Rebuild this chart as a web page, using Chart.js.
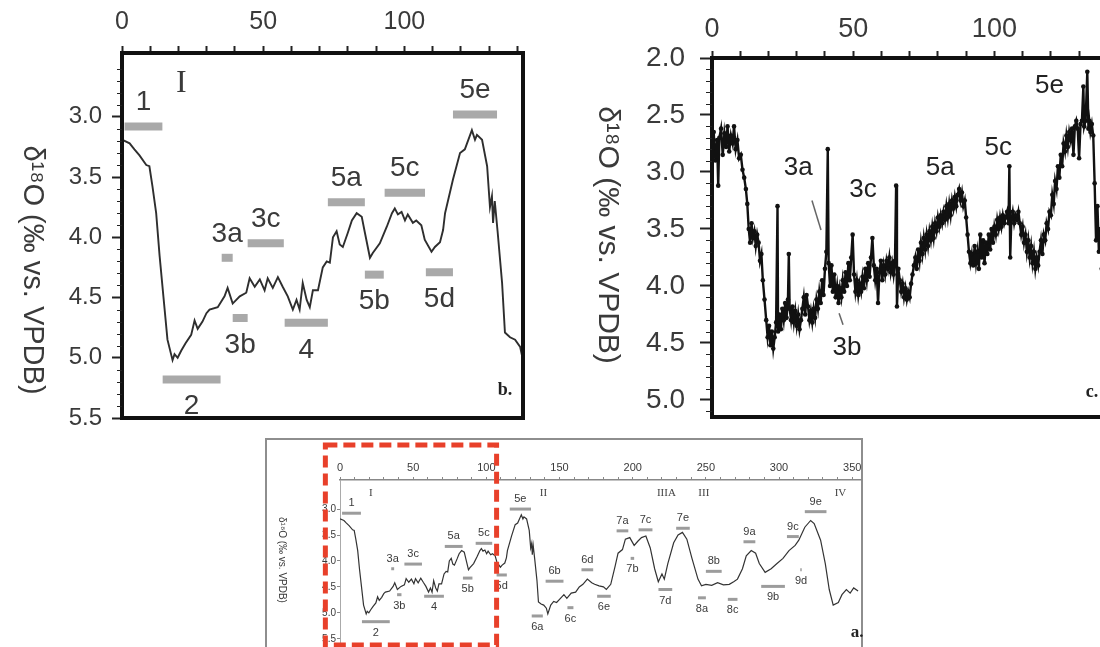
<!DOCTYPE html>
<html>
<head>
<meta charset="utf-8">
<title>δ18O records, panels a-c</title>
<script src="https://cdn.jsdelivr.net/npm/chart.js@4.4.1/dist/chart.umd.min.js"></script>
<style>
  html, body { margin: 0; padding: 0; background: #fff; }
  #page { position: relative; width: 1100px; height: 647px; overflow: hidden; }
  #page canvas { position: absolute; }
  #canvasB { left: 0; top: 0; }
  #canvasC { left: 560px; top: 0; }
  #canvasA { left: 265px; top: 438px; }
  #frameA { position: absolute; left: 265px; top: 438px; width: 598px; height: 240px;
            border: 2px solid #8e8e8e; box-sizing: border-box; }
</style>
</head>
<body>
<div id="page">
  <div id="frameA"></div>
  <canvas id="canvasB" width="550" height="440"></canvas>
  <canvas id="canvasC" width="570" height="440"></canvas>
  <canvas id="canvasA" width="600" height="215"></canvas>
</div>
<script>
var SANS = '"Liberation Sans", Arial, sans-serif';
var SERIF = '"Liberation Serif", "Times New Roman", serif';
var INK = '#3a3a3a';
var AXIS_TITLE = 'δ¹⁸O (‰ vs. VPDB)';

// smoothed record (panels a and b), age vs d18O
var recAge = [0, 2.7, 4.4, 6.2, 8.6, 9.7, 10.8, 12.1, 13.3, 14.7, 16.1, 17.9, 18.6, 19.7, 21, 22.5, 24.5, 25.7, 26.8, 28.5,
  29.9, 31, 33.9, 36.3, 37.4, 39.2, 41.7, 44, 45.2, 47, 48.8, 50.5, 51.6, 53.4, 55.2, 56.9, 58.7, 60.5, 61.8, 62.9,
  64, 65.4, 66.5, 67.6, 69.4, 71.1, 72.5, 73.6, 74.7, 76, 77.1, 78.2, 80, 81.4, 83.1, 84.9, 86, 87.8, 88.8, 91.3,
  93.8, 95.6, 96.6, 97.7, 99, 100.2, 101.2, 103, 104.2, 106, 107.2, 109.6, 110.8, 112.6, 113.7, 114.4, 117.2, 119.7, 121.4, 123.9,
  125, 125.7, 127.5, 129.3, 130.3, 131, 131.4, 132, 133, 134.6, 135.6, 137.4, 139.2, 141, 142, 144, 146, 148, 150, 153,
  155, 158, 161, 163.5, 166, 169, 172, 174, 177, 180, 182, 185, 188, 190, 193, 195, 198, 201, 203.5, 206,
  209, 212, 215, 217.5, 220, 221.6, 224, 228, 231, 234, 237, 240.5, 244.6, 247, 250, 254, 258, 262, 266, 269,
  271.6, 275, 277.6, 281, 284, 286.5, 290.5, 294.6, 298.6, 302.7, 306.8, 311, 313.5, 317.6, 321.6, 324, 328.4, 331.6, 334.3, 337,
  340.5, 343, 346, 348.6, 351, 354];
var recD18O = [3.19, 3.22, 3.27, 3.32, 3.40, 3.41, 3.58, 3.80, 4.15, 4.50, 4.85, 5.02, 4.97, 5.00, 4.94, 4.88, 4.81, 4.69, 4.76, 4.70,
  4.63, 4.60, 4.58, 4.49, 4.42, 4.55, 4.49, 4.46, 4.34, 4.41, 4.35, 4.44, 4.34, 4.42, 4.33, 4.41, 4.49, 4.60, 4.52, 4.60,
  4.38, 4.52, 4.58, 4.44, 4.44, 4.25, 4.20, 4.21, 4.00, 3.95, 4.06, 4.08, 3.96, 3.86, 3.80, 3.83, 3.96, 4.17, 4.13, 4.05,
  3.91, 3.80, 3.76, 3.81, 3.79, 3.86, 3.81, 3.88, 3.86, 3.90, 4.02, 4.12, 4.08, 4.04, 3.94, 3.80, 3.52, 3.30, 3.27, 3.11,
  3.19, 3.15, 3.19, 3.41, 3.75, 3.66, 3.88, 3.70, 3.95, 4.38, 4.79, 4.83, 4.85, 4.91, 5.02, 4.85, 4.78, 4.80, 4.74, 4.65,
  4.72, 4.62, 4.60, 4.50, 4.45, 4.35, 4.42, 4.45, 4.48, 4.50, 4.55, 4.45, 4.10, 3.85, 3.78, 3.58, 3.55, 3.70, 3.62, 3.55,
  3.52, 3.75, 4.15, 4.40, 4.25, 4.35, 4.05, 3.65, 3.50, 3.45, 3.58, 3.95, 4.35, 4.48, 4.45, 4.47, 4.42, 4.46, 4.45, 4.40,
  4.35, 4.15, 3.90, 3.80, 3.85, 4.05, 4.22, 4.15, 4.05, 3.95, 3.80, 3.70, 3.60, 3.35, 3.22, 3.28, 3.60, 4.05, 4.55, 4.85,
  4.80, 4.65, 4.55, 4.62, 4.52, 4.58];

// high-resolution record (panel c)
var cAge = [0, 0.6, 1.2, 1.8, 2.2, 2.6, 3.2, 3.8, 4.4, 5.0, 5.5, 6.1, 6.7, 7.3, 7.8, 8.4, 9.0, 9.6, 10.2, 10.8,
  11.4, 12.0, 12.5, 13.0, 13.5, 14.0, 14.5, 15.0, 15.5, 16.0, 16.5, 17.0, 17.5, 18.0, 18.6, 19.2, 19.7, 20.2, 20.7, 21.2,
  21.7, 22.2, 22.7, 23.2, 23.4, 23.9, 24.4, 24.9, 25.4, 25.9, 26.4, 26.9, 27.2, 27.5, 28.0, 28.5, 29.0, 29.5, 30.0, 30.5,
  31.0, 31.5, 32.0, 32.5, 33.0, 33.5, 34.0, 34.5, 35.0, 35.5, 36.0, 36.5, 37.0, 37.5, 38.0, 38.5, 39.0, 39.5, 40.0, 40.5,
  41.0, 41.3, 41.8, 42.3, 42.8, 43.3, 43.8, 44.3, 44.8, 45.3, 45.8, 46.3, 46.8, 47.3, 47.8, 48.3, 48.8, 49.3, 49.8, 50.3,
  50.8, 51.3, 51.8, 52.3, 52.8, 53.3, 53.8, 54.3, 54.8, 55.3, 55.8, 56.3, 56.8, 57.3, 57.8, 58.3, 58.8, 59.3, 59.8, 60.3,
  60.8, 61.3, 61.8, 62.3, 62.8, 63.3, 63.8, 64.3, 64.8, 65.2, 65.5, 66.0, 66.5, 67.0, 67.5, 68.0, 68.5, 69.0, 69.5, 70.0,
  70.5, 71.0, 71.5, 72.0, 72.5, 73.0, 73.5, 74.0, 74.5, 75.0, 75.5, 76.0, 76.5, 77.0, 77.5, 78.0, 78.5, 79.0, 79.5, 80.0,
  80.5, 81.0, 81.5, 82.0, 82.5, 83.0, 83.5, 84.0, 84.5, 85.0, 85.5, 86.0, 86.5, 87.0, 87.5, 88.0, 88.5, 89.0, 89.5, 90.0,
  90.5, 91.0, 91.5, 92.0, 92.5, 93.0, 93.5, 94.0, 94.5, 95.0, 95.5, 96.0, 96.5, 97.0, 97.5, 98.0, 98.5, 99.0, 99.5, 100.0,
  100.5, 101.0, 101.5, 102.0, 102.5, 103.0, 103.5, 104.0, 104.5, 105.0, 105.3, 105.6, 106.0, 106.5, 107.0, 107.5, 108.0, 108.5, 109.0, 109.5,
  110.0, 110.5, 111.0, 111.5, 112.0, 112.5, 113.0, 113.5, 114.0, 114.5, 115.0, 115.5, 116.0, 116.5, 117.0, 117.5, 118.0, 118.5, 119.0, 119.5,
  120.0, 120.5, 121.0, 121.5, 122.0, 122.5, 123.0, 123.5, 124.0, 124.5, 125.0, 125.5, 126.0, 126.5, 127.0, 127.5, 128.0, 128.5, 129.0, 129.5,
  130.0, 130.5, 131.0, 131.5, 131.8, 132.3, 132.9, 133.3, 133.6, 134.0, 134.5, 135.0, 135.5, 136.0, 136.5, 137.0, 137.5, 138.0, 138.5, 139.0,
  139.5, 140.0, 141.0, 142.0];
var cD18O = [2.80, 2.65, 2.90, 2.72, 3.12, 2.70, 2.62, 2.85, 2.66, 2.78, 2.60, 2.82, 2.68, 2.75, 2.60, 2.80, 2.72, 2.88, 2.85, 2.98,
  3.05, 3.15, 3.28, 3.50, 3.62, 3.45, 3.58, 3.52, 3.65, 3.55, 3.62, 3.78, 3.72, 3.95, 4.12, 4.30, 4.45, 4.35, 4.52, 4.40,
  4.55, 4.45, 4.32, 3.30, 4.40, 4.25, 4.38, 4.20, 4.30, 4.15, 4.28, 4.12, 3.72, 4.20, 4.30, 4.18, 4.32, 4.22, 4.35, 4.25,
  4.38, 4.30, 4.20, 4.10, 4.25, 4.08, 4.18, 4.30, 4.22, 4.32, 4.20, 4.28, 4.12, 4.20, 4.05, 4.15, 3.95, 4.08, 3.85, 3.70,
  2.80, 3.80, 4.00, 3.82, 4.05, 3.90, 4.10, 4.00, 4.15, 4.02, 4.10, 3.95, 4.05, 3.88, 4.00, 3.80, 3.95, 3.75, 3.55, 3.90,
  4.05, 3.95, 4.08, 3.98, 4.05, 3.92, 4.02, 3.85, 3.95, 3.80, 3.92, 3.75, 3.58, 3.82, 3.95, 3.85, 4.15, 3.88, 3.78, 3.95,
  3.82, 3.90, 3.78, 3.85, 3.75, 3.88, 3.80, 3.90, 3.78, 3.12, 4.18, 3.85, 3.95, 4.05, 3.98, 4.10, 4.02, 4.12, 4.05, 4.10,
  3.98, 3.90, 3.82, 3.75, 3.85, 3.68, 3.78, 3.62, 3.72, 3.58, 3.68, 3.55, 3.65, 3.52, 3.60, 3.48, 3.58, 3.45, 3.52, 3.40,
  3.48, 3.38, 3.45, 3.35, 3.42, 3.30, 3.40, 3.28, 3.38, 3.25, 3.32, 3.22, 3.30, 3.20, 3.15, 3.25, 3.18, 3.30, 3.25, 3.40,
  3.55, 3.70, 3.80, 3.72, 3.82, 3.65, 3.80, 3.70, 3.85, 3.55, 3.75, 3.60, 3.80, 3.62, 3.72, 3.55, 3.68, 3.50, 3.62, 3.48,
  3.55, 3.42, 3.50, 3.40, 3.48, 3.38, 3.45, 3.40, 3.35, 3.45, 2.95, 3.75, 3.42, 3.35, 3.45, 3.38, 3.42, 3.35, 3.45, 3.55,
  3.48, 3.62, 3.55, 3.70, 3.60, 3.75, 3.65, 3.80, 3.70, 3.85, 3.75, 3.82, 3.70, 3.60, 3.72, 3.55, 3.60, 3.45, 3.50, 3.35,
  3.38, 3.20, 3.28, 3.08, 3.15, 2.95, 3.05, 2.85, 2.95, 2.75, 2.82, 2.68, 2.78, 2.65, 2.72, 2.62, 2.85, 2.60, 2.55, 2.62,
  2.88, 2.58, 2.55, 2.25, 2.60, 2.55, 2.12, 2.62, 2.55, 2.65, 2.58, 2.68, 3.10, 3.60, 3.30, 3.70, 3.50, 3.85, 3.70, 3.95,
  3.80, 4.05, 4.20, 4.30];

// isotope stages shown in panel b
var stageB = ['1', '2', '3a', '3b', '3c', '4', '5a', '5b', '5c', '5d', '5e'];
var stageBFrom = [0.9, 14.4, 35.3, 39.2, 44.5, 57.6, 72.9, 86, 93, 107.6, 117.2];
var stageBTo = [14.3, 34.9, 39.2, 44.5, 57.3, 72.9, 86, 92.7, 107.3, 117.2, 132.8];
var stageBLevel = [3.08, 5.18, 4.17, 4.67, 4.05, 4.71, 3.71, 4.31, 3.63, 4.29, 2.98];
var stageBBelow = [false, true, false, true, false, true, false, true, false, true, false];

// isotope stages shown in panel a
var stageA = ['1', '2', '3a', '3b', '3c', '4', '5a', '5b', '5c', '5d', '5e', '6a', '6b', '6c', '6d', '6e',
  '7a', '7b', '7c', '7d', '7e', '8a', '8b', '8c', '9a', '9b', '9c', '9d', '9e'];
var stageAFrom = [1.4, 15, 35, 39, 44, 57.5, 71.6, 84, 92.7, 107, 116, 131, 140.5, 155.4, 165, 175.7,
  189, 198.6, 204, 217.6, 229.7, 244.6, 250, 265, 275.7, 287.8, 305.4, 314.5, 317.6];
var stageATo = [14.3, 34, 37, 42, 56, 71, 83.8, 90.5, 104, 114, 130.5, 138.6, 152.7, 159.5, 173, 185,
  197, 201, 213.5, 227, 239, 250, 260.8, 271.6, 283.8, 304, 313.5, 315.5, 332.4];
var stageALevel = [3.08, 5.17, 4.15, 4.65, 4.06, 4.68, 3.72, 4.33, 3.66, 4.27, 3.00, 5.06, 4.39, 4.90, 4.17, 4.68,
  3.42, 3.95, 3.40, 4.55, 3.37, 4.71, 4.20, 4.74, 3.63, 4.49, 3.53, 4.17, 3.05];
var stageABelow = [false, true, false, true, false, true, false, true, false, true, false, true, false, true, false, true,
  false, true, false, true, false, true, false, true, false, true, false, true, false];

// terminations (roman numerals)
var termLabel = ['I', 'II', 'IIIA', 'III', 'IV'];
var termAge = [21, 139, 223, 248.6, 342];

// panel c stage names and leader lines
var cLabel = ['3a', '3c', '5a', '5c', '5e', '3b'];
var cLabelAge = [30.5, 53.5, 80.8, 101.4, 119.5, 47.8];
var cLabelD18O = [2.96, 3.16, 2.96, 2.79, 2.24, 4.54];
var cLeaderAge = [[35.4, 38.6], [45, 46.4]];
var cLeaderD18O = [[3.25, 3.51], [4.24, 4.34]];

// interval of panel a enlarged in panel b
var zoomAge = [-10, 107];

var bXTicks = [0, 10, 20, 30, 40, 50, 60, 70, 80, 90, 100, 110, 120, 130, 140];
var bYTicks = [3.0, 3.5, 4.0, 4.5, 5.0, 5.5];
var cYTicks = [2.0, 2.5, 3.0, 3.5, 4.0, 4.5, 5.0];
var aXTicks = [0, 10, 20, 30, 40, 50, 60, 70, 80, 90, 100, 110, 120, 130, 140, 150, 160, 170, 180,
  190, 200, 210, 220, 230, 240, 250, 260, 270, 280, 290, 300, 310, 320, 330, 340, 350];
var aYTicks = [3.0, 3.5, 4.0, 4.5, 5.0, 5.5];

function pts(xs, ys) {
  return xs.map(function (x, i) { return { x: x, y: ys[i] }; });
}

function minorList(from, to) {
  var out = [];
  for (var k = Math.round(from * 10); k <= Math.round(to * 10); k++) {
    if (k % 5 !== 0) out.push(k / 10);
  }
  return out;
}

function stageBars(from, to, level, color, width) {
  return from.map(function (f, i) {
    return {
      data: [{ x: f, y: level[i] }, { x: to[i], y: level[i] }],
      showLine: true, borderColor: color, borderWidth: width, borderCapStyle: 'butt', pointRadius: 0
    };
  });
}

function stageNotes(names, from, to, level, below, font, up, down) {
  return names.map(function (n, i) {
    return { text: n, x: (from[i] + to[i]) / 2, y: level[i], dy: below[i] ? down : -up, font: font };
  });
}

function axisX(max, ticks, height, o) {
  return {
    type: 'linear', position: 'top', min: 0, max: max,
    afterBuildTicks: function (s) { s.ticks = ticks.map(function (v) { return { value: v }; }); },
    afterFit: function (s) { s.height = height; s.paddingLeft = 0; s.paddingRight = 0; },
    border: o.border,
    grid: { display: true, drawOnChartArea: false, drawTicks: true, tickLength: o.tickLength, tickWidth: o.tickWidth, tickColor: o.tickColor },
    ticks: {
      autoSkip: false, maxRotation: 0, minRotation: 0, padding: o.padding, color: INK,
      font: { family: SANS, size: o.size },
      callback: function (v) { return v % 50 === 0 ? String(v) : ''; }
    }
  };
}

function axisY(min, max, ticks, width, o) {
  return {
    type: 'linear', position: 'left', reverse: true, min: min, max: max,
    afterBuildTicks: function (s) { s.ticks = ticks.map(function (v) { return { value: v }; }); },
    afterFit: function (s) { s.width = width; s.paddingTop = 0; s.paddingBottom = 0; },
    border: o.border,
    grid: { display: true, drawOnChartArea: false, drawTicks: true, tickLength: o.tickLength, tickWidth: o.tickWidth, tickColor: o.tickColor },
    ticks: {
      autoSkip: false, padding: o.padding, color: INK,
      font: { family: SANS, size: o.size },
      callback: function (v) { return v.toFixed(1); }
    }
  };
}

// draws text items at data coords (x, y) or canvas coords (px, py)
function notes(items) {
  return {
    id: 'notes',
    afterDraw: function (chart) {
      var ctx = chart.ctx, xs = chart.scales.x, ys = chart.scales.y, ca = chart.chartArea;
      ctx.save();
      items.forEach(function (it) {
        var px = it.px !== undefined ? it.px : xs.getPixelForValue(it.x);
        var py = it.py !== undefined ? it.py : ys.getPixelForValue(it.y) + (it.dy || 0);
        if (it.fromRight !== undefined) { px = ca.right - it.fromRight; py = ca.bottom - it.fromBottom; }
        ctx.font = it.font;
        ctx.fillStyle = it.color || INK;
        ctx.textAlign = 'center';
        ctx.textBaseline = 'middle';
        ctx.translate(px, py);
        if (it.rot) ctx.rotate(it.rot);
        ctx.fillText(it.text, 0, 0);
        ctx.setTransform(1, 0, 0, 1, 0, 0);
      });
      ctx.restore();
    }
  };
}

function frame(width) {
  return {
    id: 'frame',
    afterDraw: function (chart) {
      var a = chart.chartArea, ctx = chart.ctx;
      ctx.save();
      ctx.lineWidth = width;
      ctx.strokeStyle = '#111';
      ctx.strokeRect(a.left, a.top, a.right - a.left, a.bottom - a.top);
      ctx.restore();
    }
  };
}

function minorTicks(values, len) {
  return {
    id: 'minorTicks',
    afterDraw: function (chart) {
      var ys = chart.scales.y, x0 = chart.chartArea.left, ctx = chart.ctx;
      ctx.save();
      ctx.strokeStyle = '#222';
      ctx.lineWidth = 1.2;
      ctx.beginPath();
      values.forEach(function (v) {
        var py = Math.round(ys.getPixelForValue(v)) + 0.5;
        ctx.moveTo(x0 - len, py);
        ctx.lineTo(x0, py);
      });
      ctx.stroke();
      ctx.restore();
    }
  };
}

var zoomBox = {
  id: 'zoomBox',
  afterDraw: function (chart) {
    var xs = chart.scales.x, ctx = chart.ctx;
    var x1 = xs.getPixelForValue(zoomAge[0]), x2 = xs.getPixelForValue(zoomAge[1]);
    ctx.save();
    ctx.strokeStyle = '#e8402a';
    ctx.lineWidth = 5;
    ctx.setLineDash([12, 6]);
    ctx.strokeRect(x1, 7, x2 - x1, 200);
    ctx.restore();
  }
};

var base = {
  responsive: false, animation: false, events: [],
  plugins: { legend: { display: false }, tooltip: { enabled: false } }
};

function opts(extra) {
  return Object.assign({}, base, extra);
}

// panel b
new Chart(document.getElementById('canvasB'), {
  type: 'scatter',
  data: {
    datasets: stageBars(stageBFrom, stageBTo, stageBLevel, '#a9a9a9', 8).concat([{
      data: pts(recAge, recD18O), showLine: true, borderColor: '#2e2e2e', borderWidth: 1.9, pointRadius: 0
    }])
  },
  options: opts({
    layout: { padding: { left: 0, top: 0, right: 27, bottom: 22 } },
    scales: {
      x: axisX(142, bXTicks, 53, { border: { display: false }, tickLength: 7, tickWidth: 2, tickColor: '#222', padding: 9, size: 25 }),
      y: axisY(2.47, 5.5, bYTicks, 122, { border: { display: false }, tickLength: 10, tickWidth: 2, tickColor: '#222', padding: 10, size: 24 })
    }
  }),
  plugins: [
    frame(4),
    minorTicks(minorList(2.5, 5.5), 5),
    notes(stageNotes(stageB, stageBFrom, stageBTo, stageBLevel, stageBBelow, '28px ' + SANS, 24, 27).concat([
      { text: termLabel[0], x: termAge[0], y: 2.72, font: '32px ' + SERIF },
      { text: AXIS_TITLE, px: 32, py: 270, rot: Math.PI / 2, font: '29px ' + SANS },
      { text: 'b.', fromRight: 18, fromBottom: 28, font: 'bold 18px ' + SERIF, color: '#222' }
    ]))
  ]
});

// panel c
new Chart(document.getElementById('canvasC'), {
  type: 'scatter',
  data: {
    datasets: cLeaderAge.map(function (xs, i) {
      return { data: pts(xs, cLeaderD18O[i]), showLine: true, borderColor: '#666', borderWidth: 1.5, pointRadius: 0 };
    }).concat([{
      data: pts(cAge, cD18O), showLine: true, borderColor: '#111', borderWidth: 2.4,
      pointRadius: 2.3, pointBackgroundColor: '#111', pointBorderWidth: 0
    }])
  },
  options: opts({
    layout: { padding: { left: 0, top: 0, right: 17, bottom: 23 } },
    scales: {
      x: axisX(142, bXTicks, 58, { border: { display: false }, tickLength: 7, tickWidth: 2, tickColor: '#222', padding: 5, size: 27 }),
      y: axisY(2.0, 5.15, cYTicks, 152, { border: { display: false }, tickLength: 12, tickWidth: 2, tickColor: '#222', padding: 15, size: 28 })
    }
  }),
  plugins: [
    frame(4),
    minorTicks(minorList(2.0, 5.1), 6),
    notes(cLabel.map(function (n, i) {
      return { text: n, x: cLabelAge[i], y: cLabelD18O[i], font: '26px ' + SANS, color: '#222' };
    }).concat([
      { text: AXIS_TITLE, px: 47, py: 235, rot: Math.PI / 2, font: '30px ' + SANS },
      { text: 'c.', fromRight: 21, fromBottom: 25, font: 'bold 18px ' + SERIF, color: '#222' }
    ]))
  ]
});

// panel a
new Chart(document.getElementById('canvasA'), {
  type: 'scatter',
  data: {
    datasets: stageBars(stageAFrom, stageATo, stageALevel, '#9c9c9c', 3).concat([{
      data: pts(recAge, recD18O), showLine: true, borderColor: '#333', borderWidth: 1.2, pointRadius: 0
    }])
  },
  options: opts({
    layout: { padding: { left: 0, top: 0, right: 4, bottom: 9 } },
    scales: {
      x: axisX(356, aXTicks, 42, { border: { display: true, color: '#888', width: 1.5 }, tickLength: 3, tickWidth: 1, tickColor: '#888', padding: 2, size: 11 }),
      y: axisY(2.44, 5.6, aYTicks, 75, { border: { display: true, color: '#aaa', width: 1 }, tickLength: 3, tickWidth: 1, tickColor: '#888', padding: 1, size: 10 })
    }
  }),
  plugins: [
    notes(stageNotes(stageA, stageAFrom, stageATo, stageALevel, stageABelow, '11px ' + SANS, 10, 11).concat(
      termLabel.map(function (t, i) {
        return { text: t, x: termAge[i], y: 2.69, font: '11px ' + SERIF, color: '#444' };
      })
    ).concat([
      { text: AXIS_TITLE, px: 17, py: 122, rot: Math.PI / 2, font: '10px ' + SANS },
      { text: 'a.', fromRight: 4, fromBottom: 11, font: 'bold 17px ' + SERIF, color: '#222' }
    ])),
    zoomBox
  ]
});
</script>
</body>
</html>
